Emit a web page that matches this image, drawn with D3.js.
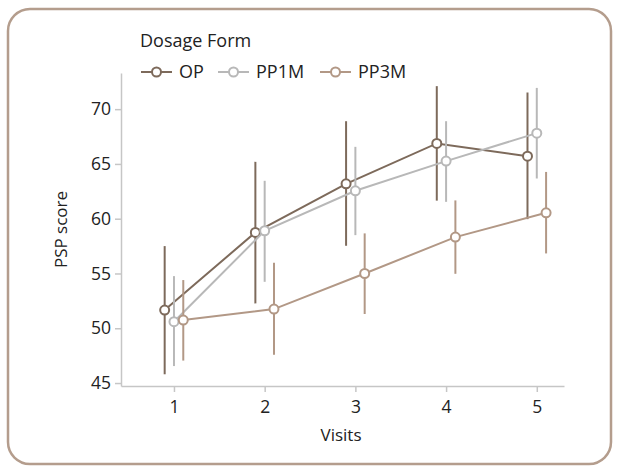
<!DOCTYPE html>
<html>
<head>
<meta charset="utf-8">
<script src="https://cdn.jsdelivr.net/npm/d3@7"></script>
<style>
  body { margin: 0; background: #fff; }
  text { font-family: "Open Sans", sans-serif; fill: #222; }
</style>
</head>
<body>
<svg id="chart" width="619" height="471"></svg>
<script>
// chart values
var visits = [1, 2, 3, 4, 5];
var series = ["OP", "PP1M", "PP3M"];
var colors = ["#7d6a5b", "#b8b8b8", "#b29886"];

var opMean  = [51.66, 58.75, 63.18, 66.87, 65.71];
var opLow   = [45.8, 52.27, 57.53, 61.65, 59.96];
var opHigh  = [57.5, 65.19, 68.9, 72.1, 71.52];

var pp1Mean = [50.6, 58.9, 62.55, 65.26, 67.81];
var pp1Low  = [46.55, 54.24, 58.5, 61.54, 63.67];
var pp1High = [54.76, 63.46, 66.56, 68.9, 71.94];

var pp3Mean = [50.75, 51.75, 55.0, 58.32, 60.54];
var pp3Low  = [47.05, 47.58, 51.3, 54.97, 56.83];
var pp3High = [54.4, 55.98, 58.66, 61.67, 64.27];

var yTicks = [45, 50, 55, 60, 65, 70];

var table = [
  {name: "OP", mean: opMean, low: opLow, high: opHigh},
  {name: "PP1M", mean: pp1Mean, low: pp1Low, high: pp1High},
  {name: "PP3M", mean: pp3Mean, low: pp3Low, high: pp3High}
];

var svg = d3.select("#chart");

// frame
svg.append("rect")
  .attr("x", 8).attr("y", 9)
  .attr("width", 603).attr("height", 455)
  .attr("rx", 22).attr("ry", 22)
  .attr("fill", "none")
  .attr("stroke", "#b49d8d")
  .attr("stroke-width", 2.5);

var plotL = 121, plotR = 564, plotT = 73, plotB = 386;

var x = d3.scaleLinear().domain([0.416, 5.3]).range([plotL, plotR]);
var y = d3.scaleLinear().domain([44.73, 73.3]).range([plotB, plotT]);
var dodge = d3.scalePoint().domain(series).range([-9.3, 9.3]);
var color = d3.scaleOrdinal().domain(series).range(colors);

// axes
var yAxis = svg.append("g")
  .attr("transform", "translate(" + plotL + ",0)")
  .call(d3.axisLeft(y).tickValues(yTicks).tickSize(6).tickPadding(4).tickSizeOuter(0));
var xAxis = svg.append("g")
  .attr("transform", "translate(0," + plotB + ")")
  .call(d3.axisBottom(x).tickValues(visits).tickFormat(d3.format("d")).tickSize(6).tickPadding(9).tickSizeOuter(0));

[xAxis, yAxis].forEach(function(g) {
  g.select(".domain").attr("stroke", "#c6c6c6").attr("stroke-width", 1.5);
  g.selectAll(".tick line").attr("stroke", "#c6c6c6").attr("stroke-width", 1.5);
  g.selectAll(".tick text").style("font-size", "17.5px").style("font-family", "Open Sans, sans-serif").attr("fill", "#222");
});

svg.append("text")
  .attr("transform", "translate(67," + ((plotT + plotB) / 2) + ") rotate(-90)")
  .attr("text-anchor", "middle")
  .style("font-size", "17px")
  .text("PSP score");

svg.append("text")
  .attr("x", 341).attr("y", 441)
  .attr("text-anchor", "middle")
  .style("font-size", "17px")
  .text("Visits");

// series
var line = d3.line()
  .x(function(d) { return d.x; })
  .y(function(d) { return d.y; });

table.forEach(function(s) {
  var pts = visits.map(function(v, i) {
    return {x: x(v) + dodge(s.name), y: y(s.mean[i]), lo: y(s.low[i]), hi: y(s.high[i])};
  });
  var g = svg.append("g");
  g.selectAll("line.err").data(pts).enter().append("line")
    .attr("class", "err")
    .attr("x1", function(d) { return d.x; }).attr("x2", function(d) { return d.x; })
    .attr("y1", function(d) { return d.lo; }).attr("y2", function(d) { return d.hi; })
    .attr("stroke", color(s.name)).attr("stroke-width", 2);
  g.append("path").datum(pts)
    .attr("d", line)
    .attr("fill", "none")
    .attr("stroke", color(s.name)).attr("stroke-width", 2);
  g.selectAll("circle").data(pts).enter().append("circle")
    .attr("cx", function(d) { return d.x; }).attr("cy", function(d) { return d.y; })
    .attr("r", 4.5)
    .attr("fill", "#fff")
    .attr("stroke", color(s.name)).attr("stroke-width", 2);
});

// legend
svg.append("text")
  .attr("x", 140).attr("y", 47)
  .style("font-size", "18px")
  .text("Dosage Form");

var legendX = [141, 218, 320];
var leg = svg.selectAll("g.leg").data(series).enter().append("g")
  .attr("class", "leg")
  .attr("transform", function(d, i) { return "translate(" + legendX[i] + ",72)"; });
leg.append("line")
  .attr("x1", 0).attr("x2", 31)
  .attr("stroke", function(d) { return color(d); }).attr("stroke-width", 2);
leg.append("circle")
  .attr("cx", 15.5).attr("r", 4.5)
  .attr("fill", "#fff")
  .attr("stroke", function(d) { return color(d); }).attr("stroke-width", 2);
leg.append("text")
  .attr("x", 38).attr("dy", "0.35em")
  .style("font-size", "18px")
  .text(function(d) { return d; });
</script>
</body>
</html>
